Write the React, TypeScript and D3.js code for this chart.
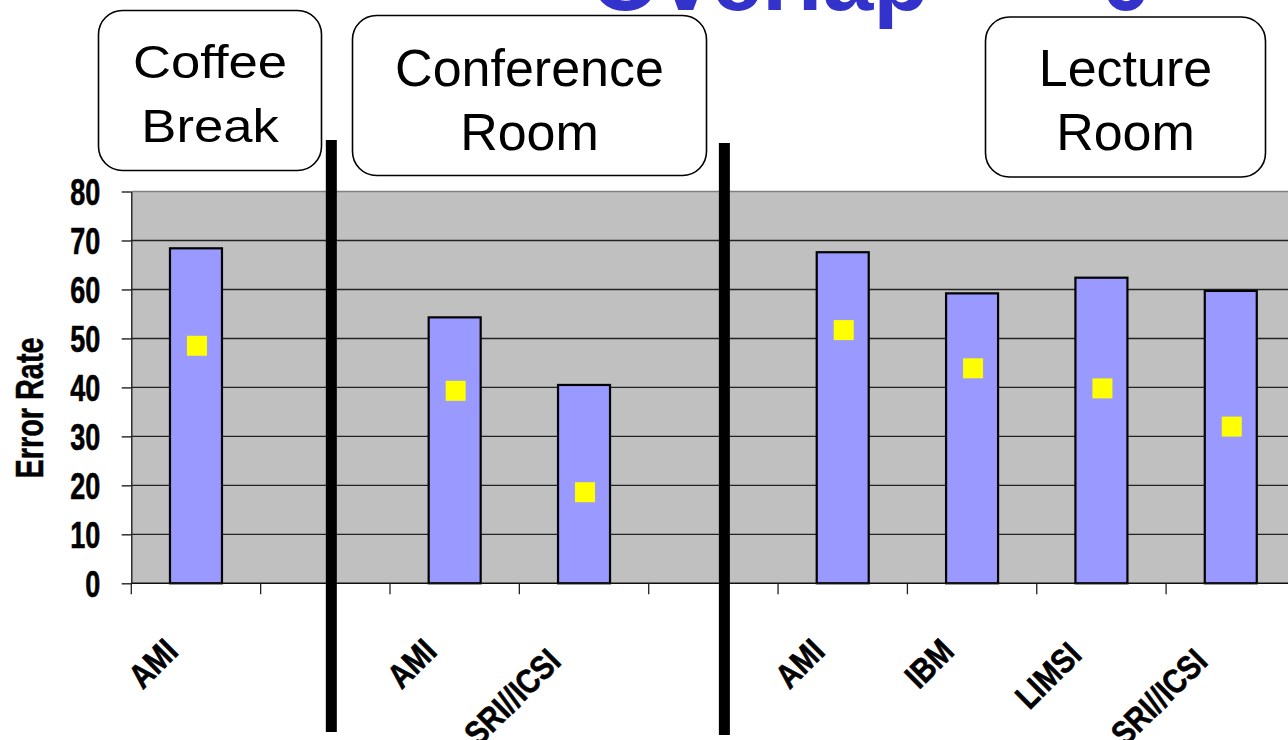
import React, { useRef, useEffect } from 'react';
import * as d3 from 'd3';

// chart values
const slotLabels = ['AMI', '', 'AMI', 'SRI//ICSI', '', 'AMI', 'IBM', 'LIMSI', 'SRI//ICSI'];
const errorRates = [68.4, null, 54.3, 40.5, null, 67.6, 59.2, 62.4, 59.7];
const markerRates = [48.5, null, 39.3, 18.6, null, 51.7, 43.9, 39.8, 32.0];
const yTicks = [0, 10, 20, 30, 40, 50, 60, 70, 80];
const roomNames = [['Coffee', 'Break'], ['Conference', 'Room'], ['Lecture', 'Room']];
// gap slots that hold the thick room separators
const separatorSlots = [1, 4];

const FONT = "'Liberation Sans', Arial, Helvetica, sans-serif";

const App = () => {
  const svgRef = useRef<SVGSVGElement>(null);

  useEffect(() => {
    const svg = d3.select(svgRef.current);
    svg.selectAll('*').remove();

    const W = 1288;
    const H = 740;
    const left = 131.3;
    const top = 191.5;
    const bottom = 583.3;
    const step = 129.35;

    const x = d3.scaleBand<number>()
      .domain(d3.range(slotLabels.length))
      .range([left, left + step * slotLabels.length])
      .padding(0);

    const y = d3.scaleLinear()
      .domain([0, 80])
      .range([bottom, top]);

    const bw = x.bandwidth();
    const right = left + step * slotLabels.length;

    svg.attr('width', W).attr('height', H);

    // plot area
    svg.append('rect')
      .attr('x', left).attr('y', top)
      .attr('width', right - left).attr('height', bottom - top)
      .attr('fill', '#c0c0c0');

    svg.append('g')
      .selectAll('line')
      .data(yTicks.filter(d => d > 0))
      .enter().append('line')
      .attr('x1', left).attr('x2', right)
      .attr('y1', d => y(d)).attr('y2', d => y(d))
      .attr('stroke', d => (d === 80 ? '#808080' : '#222'))
      .attr('stroke-width', 1.4);

    // y axis
    const yAxis = svg.append('g')
      .attr('transform', `translate(${left},0)`)
      .call(d3.axisLeft(y).tickValues(yTicks).tickSize(9.6).tickSizeOuter(0));
    yAxis.select('.domain').attr('stroke', '#222').attr('stroke-width', 1.4);
    yAxis.selectAll('.tick line').attr('stroke', '#222').attr('stroke-width', 1.4);
    yAxis.selectAll('.tick text')
      .attr('x', 0)
      .attr('dy', '0.36em')
      .attr('transform', 'translate(-31,0) scale(0.75,1)')
      .attr('font-family', FONT)
      .attr('font-weight', 'bold')
      .attr('font-size', 36)
      .attr('fill', '#000')
      .attr('stroke', '#000')
      .attr('stroke-width', 0.6)
      .attr('text-anchor', 'end');

    // bars
    const idx = d3.range(slotLabels.length);
    const barW = 52;
    svg.append('g')
      .selectAll('rect')
      .data(idx.filter(i => errorRates[i] != null))
      .enter().append('rect')
      .attr('x', i => (x(i) as number) + (bw - barW) / 2)
      .attr('y', i => y(errorRates[i] as number))
      .attr('width', barW)
      .attr('height', i => bottom - y(errorRates[i] as number))
      .attr('fill', '#9999ff')
      .attr('stroke', '#000')
      .attr('stroke-width', 2.2);

    // yellow square markers
    const mk = 20;
    svg.append('g')
      .selectAll('rect')
      .data(idx.filter(i => markerRates[i] != null))
      .enter().append('rect')
      .attr('x', i => (x(i) as number) + bw / 2 + 1 - mk / 2)
      .attr('y', i => y(markerRates[i] as number) - mk / 2)
      .attr('width', mk)
      .attr('height', mk)
      .attr('fill', '#ffff00');

    // x axis line and ticks between categories
    svg.append('line')
      .attr('x1', left).attr('x2', right)
      .attr('y1', bottom).attr('y2', bottom)
      .attr('stroke', '#111').attr('stroke-width', 1.5);

    svg.append('g')
      .selectAll('line')
      .data(idx)
      .enter().append('line')
      .attr('x1', i => x(i) as number).attr('x2', i => x(i) as number)
      .attr('y1', bottom).attr('y2', bottom + 11)
      .attr('stroke', '#222').attr('stroke-width', 1.3);

    // rotated category labels
    const sx = 0.84;
    const labels = svg.append('g')
      .selectAll('text')
      .data(idx.filter(i => slotLabels[i] !== ''))
      .enter().append('text')
      .text(i => slotLabels[i])
      .attr('font-family', FONT)
      .attr('font-weight', 'bold')
      .attr('font-size', 34)
      .attr('stroke', '#000')
      .attr('stroke-width', 0.6)
      .attr('text-anchor', 'end');
    labels.each(function (i) {
      const node = this as SVGTextElement;
      const len = node.getComputedTextLength() * sx;
      const cx = (x(i) as number) + bw / 2;
      const px = cx - 16 - 0.08 * (len - 50);
      const py = 653 + 0.15 * (len - 50);
      d3.select(node).attr('transform', `translate(${px},${py}) rotate(-45) scale(${sx},1)`);
    });

    // y axis title
    svg.append('text')
      .attr('transform', 'translate(43,408) rotate(-90) scale(0.76,1)')
      .attr('text-anchor', 'middle')
      .attr('font-family', FONT)
      .attr('font-weight', 'bold')
      .attr('font-size', 38)
      .attr('stroke', '#000')
      .attr('stroke-width', 0.5)
      .text('Error Rate');

    // thick separators between rooms
    const sepNudge = [6, 11];
    svg.append('g')
      .selectAll('rect')
      .data(separatorSlots)
      .enter().append('rect')
      .attr('x', (s, k) => (x(s) as number) + bw / 2 + sepNudge[k] - 5.5)
      .attr('y', (s, k) => 140 + k * 3)
      .attr('width', 11)
      .attr('height', 592)
      .attr('fill', '#000');

    // room callout boxes
    const boxes = [
      { x: 98.5, y: 10.5, w: 223, h: 160, size: 47, stretch: 1.12, base: [78, 142] },
      { x: 352.5, y: 15.5, w: 354, h: 160, size: 52, stretch: 1, base: [86, 150] },
      { x: 985.5, y: 17, w: 280, h: 160, size: 52, stretch: 1, base: [86, 150] },
    ];
    boxes.forEach((b, k) => {
      const g = svg.append('g');
      g.append('rect')
        .attr('x', b.x).attr('y', b.y)
        .attr('width', b.w).attr('height', b.h)
        .attr('rx', 24).attr('ry', 24)
        .attr('fill', '#fff')
        .attr('stroke', '#000')
        .attr('stroke-width', 1.6);
      roomNames[k].forEach((line, j) => {
        g.append('text')
          .attr('transform', `translate(${b.x + b.w / 2},${b.base[j]}) scale(${b.stretch},1)`)
          .attr('text-anchor', 'middle')
          .attr('font-family', FONT)
          .attr('font-size', b.size)
          .attr('fill', '#000')
          .text(line);
      });
    });

    // slide title, mostly cut off by the top edge
    svg.append('text')
      .attr('x', 590).attr('y', 10)
      .attr('font-family', FONT)
      .attr('font-weight', 'bold')
      .attr('font-size', 91)
      .attr('fill', '#3333cc')
      .text('Overlap');
    svg.append('text')
      .attr('x', 1126).attr('y', 10)
      .attr('text-anchor', 'middle')
      .attr('font-family', FONT)
      .attr('font-weight', 'bold')
      .attr('font-size', 91)
      .attr('fill', '#3333cc')
      .text('0');
  }, []);

  return (
    <svg
      ref={svgRef}
      style={{ position: 'absolute', left: 0, top: 0, display: 'block', background: '#fff' }}
    />
  );
};

export default App;
